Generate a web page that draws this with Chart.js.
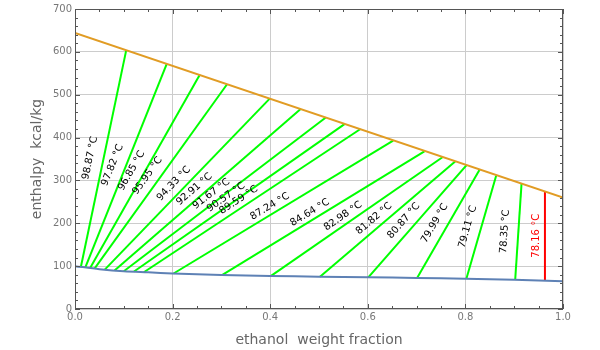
<!DOCTYPE html>
<html>
<head>
<meta charset="utf-8">
<script src="https://cdn.jsdelivr.net/npm/chart.js@4"></script>
<style>
  html, body { margin: 0; padding: 0; background: #fff; }
  #c { display: block; }
</style>
</head>
<body>
<canvas id="c" width="600" height="350"></canvas>
<script>
// ---- data ----
const tieTemps = ["98.87", "97.82", "96.85", "95.95", "94.33", "92.91", "91.67", "90.57", "89.59",
                  "87.24", "84.64", "82.98", "81.82", "80.87", "79.99", "79.11", "78.35", "78.16"];
const liquidX = [0.012, 0.021, 0.031, 0.040, 0.061, 0.081, 0.100, 0.121, 0.141,
                 0.202, 0.302, 0.401, 0.502, 0.601, 0.701, 0.802, 0.902, 0.963];
const liquidH = [98, 96.7, 95.7, 94.3, 92, 89.7, 88, 87.4, 85.8,
                 82.8, 79.5, 76.8, 75.5, 74, 72.6, 70.5, 68, 65.5];
const vaporX  = [0.105, 0.188, 0.256, 0.312, 0.399, 0.463, 0.514, 0.553, 0.585,
                 0.652, 0.716, 0.753, 0.779, 0.802, 0.829, 0.863, 0.915, 0.963];
const vaporH  = [604, 572, 547, 525, 491, 467, 447, 432, 420,
                 393, 368, 354, 344, 335, 325, 311, 292, 274];

const satLiquidX = [0, 0.05, 0.1, 0.15, 0.2, 0.3, 0.4, 0.5, 0.6, 0.7, 0.8, 0.9, 1.0];
const satLiquidH = [100, 93, 88, 85.5, 83, 79.5, 77, 75.5, 74, 72.5, 70.5, 68, 64.5];
const satVaporX  = [0, 1.0];
const satVaporH  = [644, 260];

const xTicks = [0, 0.2, 0.4, 0.6, 0.8, 1.0];
const yTicks = [0, 100, 200, 300, 400, 500, 600, 700];

// ---- build datasets ----
const pts = (xs, ys) => xs.map((x, i) => ({ x: x, y: ys[i] }));
const datasets = [
  { data: pts(satLiquidX, satLiquidH), borderColor: '#5E81B5', borderWidth: 2, showLine: true, pointRadius: 0, tension: 0.3 },
  { data: pts(satVaporX, satVaporH), borderColor: '#E19C24', borderWidth: 2, showLine: true, pointRadius: 0 }
];
tieTemps.forEach((t, i) => {
  const last = i === tieTemps.length - 1;
  datasets.push({
    data: [{ x: liquidX[i], y: liquidH[i] }, { x: vaporX[i], y: vaporH[i] }],
    borderColor: last ? '#FF0000' : '#00FF00',
    borderWidth: 2, showLine: true, pointRadius: 0
  });
});

const FONT = "'DejaVu Sans', sans-serif";

const framePlugin = {
  id: 'frame',
  afterDraw(chart) {
    const { ctx, chartArea: a, scales: { x, y } } = chart;
    ctx.save();
    ctx.strokeStyle = '#555555';
    ctx.lineWidth = 1;
    ctx.strokeRect(a.left + 0.5, a.top + 0.5, a.right - a.left - 1, a.bottom - a.top - 1);
    ctx.beginPath();
    for (let k = 0; k <= 20; k++) {
      const v = k * 0.05;
      const px = Math.round(x.getPixelForValue(v)) + 0.5;
      const len = (k % 4 === 0) ? 5 : 3;
      ctx.moveTo(px, a.bottom); ctx.lineTo(px, a.bottom - len);
      ctx.moveTo(px, a.top); ctx.lineTo(px, a.top + len);
    }
    for (let k = 0; k <= 35; k++) {
      const v = k * 20;
      const py = Math.round(y.getPixelForValue(v)) + 0.5;
      const len = (k % 5 === 0) ? 5 : 3;
      ctx.moveTo(a.left, py); ctx.lineTo(a.left + len, py);
      ctx.moveTo(a.right, py); ctx.lineTo(a.right - len, py);
    }
    ctx.stroke();
    ctx.restore();
  }
};

const labelPlugin = {
  id: 'tieLabels',
  afterDatasetsDraw(chart) {
    const { ctx, scales: { x, y } } = chart;
    ctx.save();
    ctx.font = '10px ' + FONT;
    ctx.textAlign = 'center';
    ctx.textBaseline = 'middle';
    tieTemps.forEach((t, i) => {
      const last = i === tieTemps.length - 1;
      const x1 = x.getPixelForValue(liquidX[i]), y1 = y.getPixelForValue(liquidH[i]);
      const x2 = x.getPixelForValue(vaporX[i]), y2 = y.getPixelForValue(vaporH[i]);
      const ang = Math.atan2(y2 - y1, x2 - x1);
      const cx = (x1 + x2) / 2 - (last ? 9 : 13.5);
      const cy = (y1 + y2) / 2 - 0.5;
      ctx.save();
      ctx.translate(cx, cy);
      ctx.rotate(ang);
      ctx.fillStyle = last ? '#FF0000' : '#000000';
      ctx.fillText(t + ' \u00B0C', 0, 0);
      ctx.restore();
    });
    ctx.restore();
  }
};

new Chart(document.getElementById('c'), {
  type: 'scatter',
  data: { datasets },
  options: {
    responsive: false,
    animation: false,
    layout: { padding: { left: 0, right: 37, top: 7, bottom: 0 } },
    plugins: { legend: { display: false }, tooltip: { enabled: false } },
    scales: {
      x: {
        type: 'linear', min: 0, max: 1,
        afterBuildTicks: s => { s.ticks = xTicks.map(v => ({ value: v })); },
        ticks: { callback: v => Number(v).toFixed(1), font: { size: 10, family: FONT }, color: '#777777', padding: 2, maxRotation: 0, autoSkip: false },
        grid: { color: '#CCCCCC', drawTicks: false },
        border: { display: false },
        title: { display: true, text: 'ethanol  weight fraction', color: '#666666', font: { size: 14, family: FONT }, padding: { top: 0, bottom: 1 } },
        afterFit: s => { s.height = 41; }
      },
      y: {
        type: 'linear', min: 0, max: 700,
        afterBuildTicks: s => { s.ticks = yTicks.map(v => ({ value: v })); },
        ticks: { font: { size: 10, family: FONT }, color: '#777777', padding: 3, autoSkip: false },
        grid: { color: '#CCCCCC', drawTicks: false },
        border: { display: false },
        title: { display: true, text: 'enthalpy  kcal/kg', color: '#666666', font: { size: 14, family: FONT }, padding: { top: 29, bottom: 0 } },
        afterFit: s => { s.width = 75; }
      }
    }
  },
  plugins: [framePlugin, labelPlugin]
});
</script>
</body>
</html>
